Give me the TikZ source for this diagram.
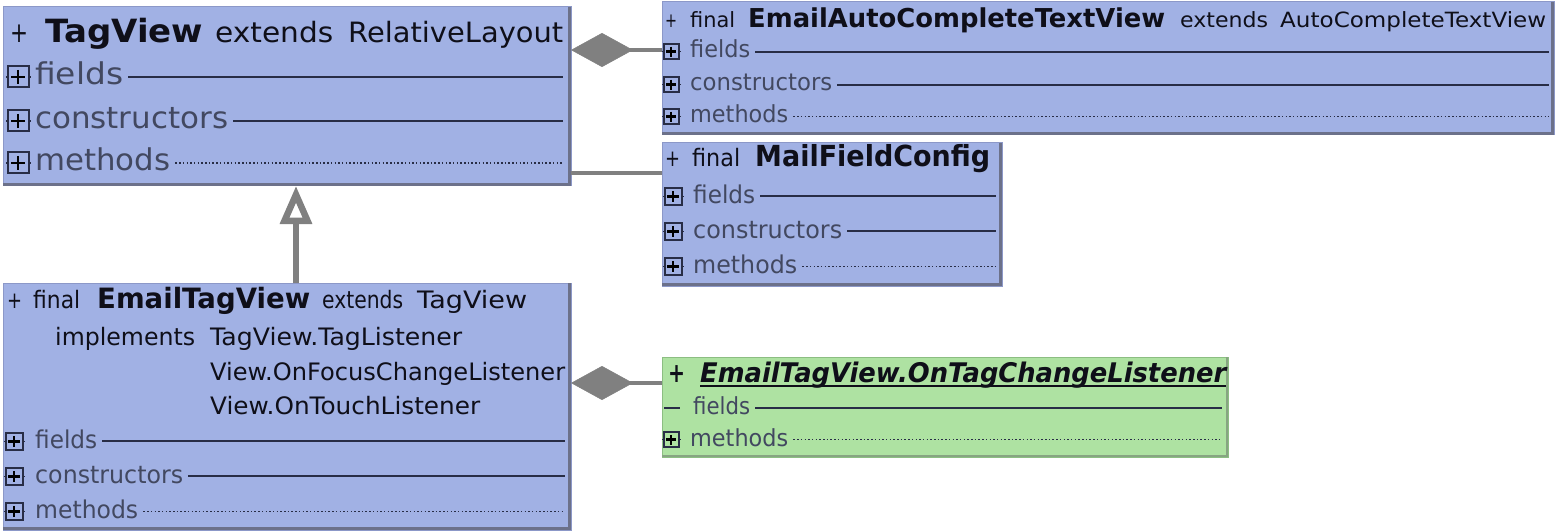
\documentclass[tikz,border=0pt]{standalone}
\usepackage{fontspec}
\usepackage{graphicx}
\setmainfont{DejaVu Sans}
\usetikzlibrary{arrows.meta,calc}
\definecolor{boxblue}{RGB}{161,177,228}
\definecolor{boxgreen}{RGB}{174,226,162}
\definecolor{boxedge}{RGB}{140,152,200}
\definecolor{greenedge}{RGB}{140,190,130}
\definecolor{greenshadow}{RGB}{135,165,130}
\definecolor{shadowc}{RGB}{108,113,138}
\definecolor{rowtext}{RGB}{66,72,96}
\definecolor{titletext}{RGB}{15,15,25}
\definecolor{rulec}{RGB}{40,45,70}
\definecolor{connc}{RGB}{128,128,128}
\newcommand\hw[2]{\resizebox{#1pt}{\height}{#2}}
\newcommand\fs[1]{\fontsize{#1}{#1}\selectfont}
% title segment: name, x, baseline, content
\newcommand\ttl[4]{\node[anchor=base west, inner sep=0pt, text=titletext] (#1) at (#2,#3) {#4};}
% row: name, icon cx, label x, baseline, icon size, label, rule end x, rule style, font size
\newcommand\umlrow[9]{%
  \pgfmathsetmacro\ry{#4-0.28*#9}%
  \node[iconbox, minimum size=#5pt] (#1-i) at (#2,\ry) {};
  \draw[iconplus] (#1-i.center) ++({-0.33*#5},0) -- ++({0.66*#5},0)
                  (#1-i.center) ++(0,{-0.33*#5}) -- ++(0,{0.66*#5});
  \draw[iconstub] (#1-i.west) -- ++(-2,0) (#1-i.east) -- ++(2,0);
  \node[anchor=base west, inner sep=0pt, text=rowtext] (#1-l) at (#3,#4) {#6};
  \draw[#8] (#1-l.east |- #1-i.center) ++(5,0) -- (#7,\ry);
}
\begin{document}
\begin{tikzpicture}[x=1pt,y=-1pt,
  box/.style={draw=boxedge, line width=1pt, fill=boxblue, inner sep=0pt, outer sep=0pt, anchor=north west},
  gbox/.style={box, draw=greenedge, fill=boxgreen},
  boxshadow/.style={draw=shadowc, line width=3pt},
  gshadow/.style={draw=greenshadow, line width=2pt},
  iconbox/.style={draw=rulec, line width=2pt, inner sep=0pt, outer sep=0pt, rectangle},
  iconplus/.style={draw=black, line width=2.6pt},
  iconstub/.style={draw=rulec, line width=1.4pt},
  solidrule/.style={draw=rulec, line width=2pt},
  dotrule/.style={draw=rulec, line width=1.5pt, dash pattern=on 1.5pt off 2.2pt},
  comp/.style={draw=connc, line width=4.5pt, {Diamond[length=62pt,width=34pt,line width=0.5pt]}-{}},
  assoc/.style={draw=connc, line width=4.5pt},
  inh/.style={draw=connc, line width=6.5pt, -{Triangle[open,length=38pt,width=31pt]}},
]
\useasboundingbox (0,0) rectangle (1559,532);

% ---------- TagView ----------
\node[box, minimum width=568pt, minimum height=179pt] (tv) at (3,7) {};
\draw[boxshadow] ([xshift=-1.5pt]tv.north east) -- ([xshift=-1.5pt,yshift=1.5pt]tv.south east) -- ([yshift=1.5pt]tv.south west);
\ttl{tv-t1}{10}{43}{\hw{18}{\fs{28}+}}
\ttl{tv-t2}{45}{43}{\hw{158}{\fs{32}\bfseries TagView}}
\ttl{tv-t3}{215}{43}{\hw{118}{\fs{28}extends}}
\ttl{tv-t4}{348}{43}{\hw{215}{\fs{28}RelativeLayout}}
\umlrow{tv-f}{18}{35}{85}{21}{\hw{88}{\fs{30}fields}}{563}{solidrule}{29}
\umlrow{tv-c}{18}{35}{129}{21}{\hw{193}{\fs{30}constructors}}{563}{solidrule}{29}
\umlrow{tv-m}{18}{35}{171}{21}{\hw{135}{\fs{30}methods}}{563}{dotrule}{29}

% ---------- EmailAutoCompleteTextView ----------
\node[box, minimum width=892pt, minimum height=133pt] (eac) at (662,2) {};
\draw[boxshadow] ([xshift=-1.5pt]eac.north east) -- ([xshift=-1.5pt,yshift=1.5pt]eac.south east) -- ([yshift=1.5pt]eac.south west);
\ttl{eac-t1}{665}{28}{\hw{12}{\fs{20}+}}
\ttl{eac-t2}{690}{28}{\hw{45}{\fs{21}final}}
\ttl{eac-t3}{748}{28}{\hw{417}{\fs{26}\bfseries EmailAutoCompleteTextView}}
\ttl{eac-t4}{1180}{28}{\hw{88}{\fs{21}extends}}
\ttl{eac-t5}{1280}{28}{\hw{266}{\fs{21}AutoCompleteTextView}}
\umlrow{eac-f}{671}{690}{58}{15}{\hw{60}{\fs{23.5}fields}}{1549}{solidrule}{22.5}
\umlrow{eac-c}{671}{690}{91}{15}{\hw{142}{\fs{23.5}constructors}}{1549}{solidrule}{22.5}
\umlrow{eac-m}{671}{690}{123}{15}{\hw{98}{\fs{23.5}methods}}{1549}{dotrule}{22.5}

% ---------- MailFieldConfig ----------
\node[box, minimum width=340pt, minimum height=143pt] (mfc) at (662,143) {};
\draw[boxshadow] ([xshift=-1.5pt]mfc.north east) -- ([xshift=-1.5pt,yshift=1.5pt]mfc.south east) -- ([yshift=1.5pt]mfc.south west);
\ttl{mfc-t1}{665}{167}{\hw{15}{\fs{23}+}}
\ttl{mfc-t2}{692}{167}{\hw{48}{\fs{24}final}}
\ttl{mfc-t3}{755}{167}{\hw{235}{\fs{29}\bfseries MailFieldConfig}}
\umlrow{mfc-f}{673}{693}{203}{17}{\hw{62}{\fs{24.5}fields}}{996}{solidrule}{23.5}
\umlrow{mfc-c}{673}{693}{238}{17}{\hw{149}{\fs{24.5}constructors}}{996}{solidrule}{23.5}
\umlrow{mfc-m}{673}{693}{273}{17}{\hw{104}{\fs{24.5}methods}}{996}{dotrule}{23.5}

% ---------- EmailTagView ----------
\node[box, minimum width=568pt, minimum height=247pt] (et) at (3,283) {};
\draw[boxshadow] ([xshift=-1.5pt]et.north east) -- ([xshift=-1.5pt,yshift=1.5pt]et.south east) -- ([yshift=1.5pt]et.south west);
\ttl{et-t1}{7}{308}{\hw{15}{\fs{23}+}}
\ttl{et-t2}{33}{308}{\hw{47}{\fs{24}final}}
\ttl{et-t3}{97}{308}{\hw{213}{\fs{28}\bfseries EmailTagView}}
\ttl{et-t4}{322}{308}{\hw{81}{\fs{24}extends}}
\ttl{et-t5}{417}{308}{\hw{110}{\fs{24}TagView}}
\ttl{et-i1}{55}{345}{\hw{140}{\fs{24}implements}}
\ttl{et-i2}{210}{345}{\hw{252}{\fs{24}TagView.TagListener}}
\ttl{et-i3}{210}{380}{\hw{355}{\fs{24}View.OnFocusChangeListener}}
\ttl{et-i4}{210}{414}{\hw{270}{\fs{24}View.OnTouchListener}}
\umlrow{et-f}{14}{35}{448}{17}{\hw{62}{\fs{24.5}fields}}{565}{solidrule}{23.5}
\umlrow{et-c}{14}{35}{483}{17}{\hw{148}{\fs{24.5}constructors}}{565}{solidrule}{23.5}
\umlrow{et-m}{14}{35}{518}{17}{\hw{103}{\fs{24.5}methods}}{565}{dotrule}{23.5}

% ---------- EmailTagView.OnTagChangeListener ----------
\node[gbox, minimum width=566pt, minimum height=100pt] (gr) at (662,357) {};
\draw[gshadow] ([xshift=-1pt]gr.north east) -- ([xshift=-1pt,yshift=1pt]gr.south east) -- ([yshift=1pt]gr.south west);
\ttl{gr-t1}{668}{382}{\hw{17}{\fs{27}\bfseries\itshape +}}
\ttl{gr-t2}{700}{382}{\hw{526}{\fs{27}\bfseries\itshape EmailTagView.OnTagChangeListener}}
\draw[line width=2pt, draw=titletext] ([yshift=-4pt]gr-t2.base west) -- ([yshift=-4pt]gr-t2.base east);
\node[anchor=base west, inner sep=0pt, text=rowtext] (gr-fl) at (693,414) {\hw{57}{\fs{23.5}fields}};
\draw[solidrule] ([yshift=6.3pt]gr-fl.base west) ++(-29,0) -- ++(16,0);
\draw[solidrule] ([yshift=6.3pt,xshift=5pt]gr-fl.base east) -- ([yshift=6.3pt]gr-fl.base east -| 1222,0);
\umlrow{gr-m}{671}{690}{446}{15}{\hw{98}{\fs{23.5}methods}}{1222}{dotrule}{22.5}

% ---------- connectors ----------
\coordinate (c1) at ([yshift=-43pt]tv.north east);
\draw[comp] (c1) -- (c1 -| eac.west);
\coordinate (c2) at ([yshift=-166pt]tv.north east);
\draw[assoc] (c2) -- (c2 -| mfc.west);
\coordinate (c3) at ([xshift=293pt]et.north west);
\draw[inh] (c3) -- (c3 |- tv.south);
\coordinate (c4) at ([yshift=-100pt]et.north east);
\draw[comp] (c4) -- (c4 -| gr.west);
\end{tikzpicture}
\end{document}
